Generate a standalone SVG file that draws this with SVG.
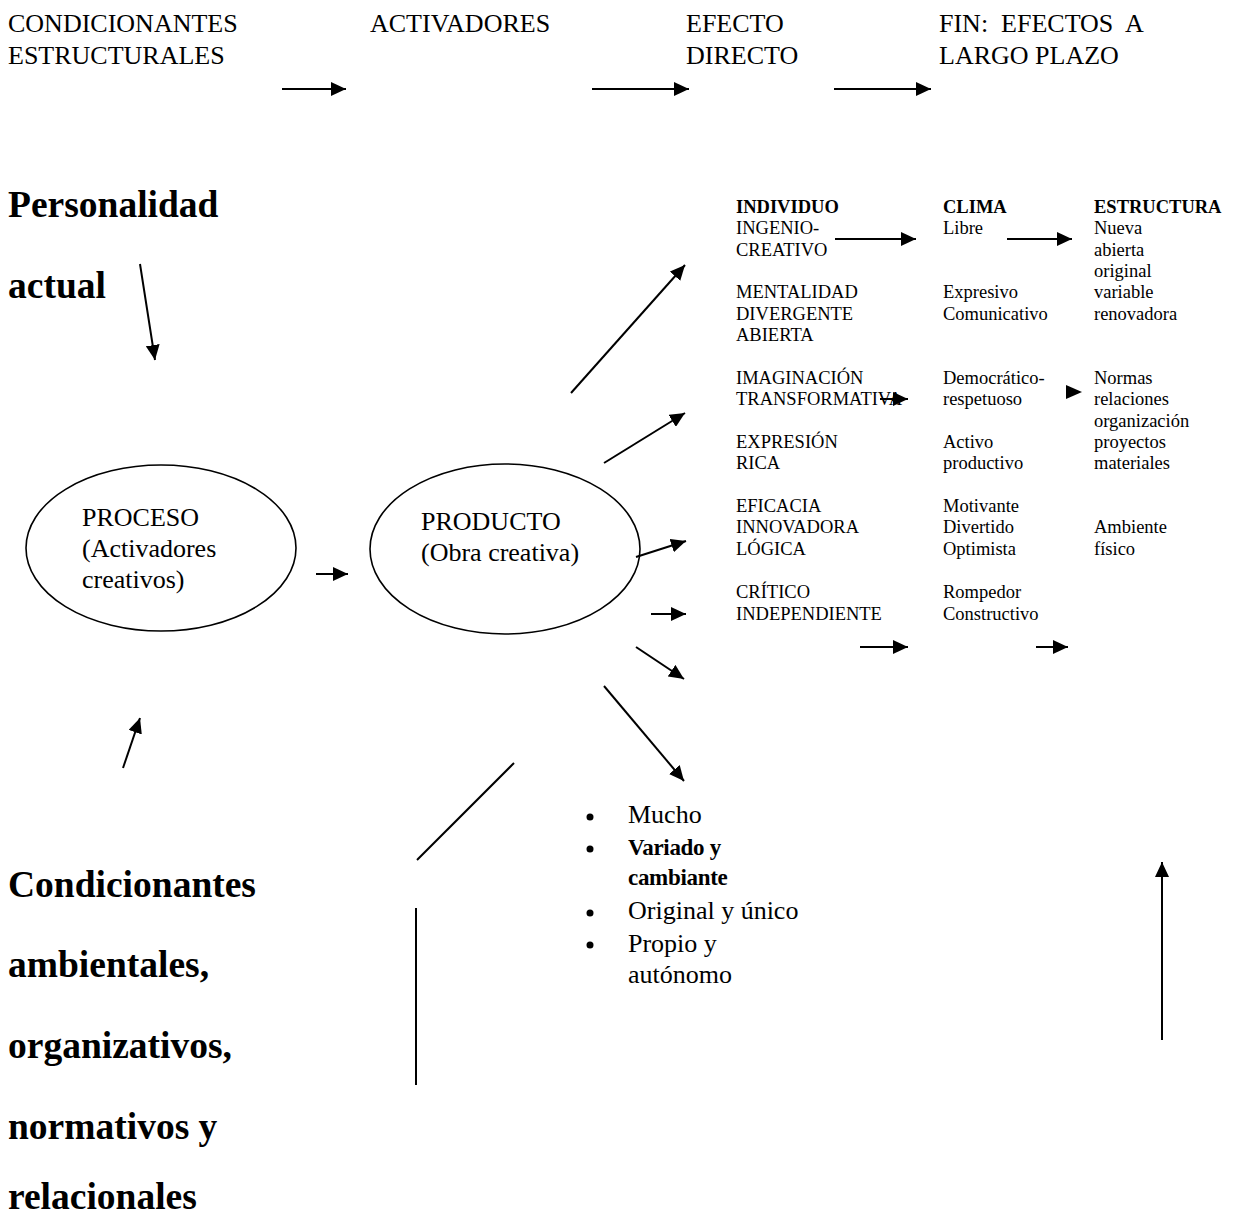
<svg xmlns="http://www.w3.org/2000/svg" width="1236" height="1219" viewBox="0 0 1236 1219">
<defs>
<marker id="ah" markerUnits="userSpaceOnUse" markerWidth="16" markerHeight="14" refX="15" refY="7" orient="auto">
<path d="M0,0 L15,7 L0,14 z" fill="#000"/>
</marker>
<style>
text{font-family:"Liberation Serif","Times New Roman",serif;fill:#000}
.hd{font-size:26px}
.big{font-size:37.5px;font-weight:bold}
.el{font-size:26px}
.tb{font-size:18.5px}
.tbb{font-size:18.5px;font-weight:bold}
.bl{font-size:26px}
.blb{font-size:23px;font-weight:bold;letter-spacing:-0.3px}
.ln{stroke:#000;stroke-width:2;fill:none}
.ar{stroke:#000;stroke-width:2;fill:none;marker-end:url(#ah)}
.ell{stroke:#000;stroke-width:1.6;fill:#fff}
</style>
</defs>
<rect width="1236" height="1219" fill="#fff"/>

<g id="header">
<text class="hd" x="8" y="32">CONDICIONANTES</text>
<text class="hd" x="8" y="64">ESTRUCTURALES</text>
<text class="hd" x="370" y="32">ACTIVADORES</text>
<text class="hd" x="686" y="32">EFECTO</text>
<text class="hd" x="686" y="64">DIRECTO</text>
<text class="hd" x="939" y="32" xml:space="preserve">FIN:  EFECTOS  A</text>
<text class="hd" x="939" y="64">LARGO PLAZO</text>
</g>

<g id="personalidad">
<text class="big" x="8" y="217">Personalidad</text>
<text class="big" x="8" y="298">actual</text>
</g>

<g id="condicionantes">
<text class="big" x="8" y="897">Condicionantes</text>
<text class="big" x="8" y="977">ambientales,</text>
<text class="big" x="8" y="1058">organizativos,</text>
<text class="big" x="8" y="1139">normativos y</text>
<text class="big" x="8" y="1209">relacionales</text>
</g>

<g id="proceso">
<ellipse class="ell" cx="161" cy="548" rx="135" ry="83"/>
<text class="el" x="82" y="526">PROCESO</text>
<text class="el" x="82" y="557">(Activadores</text>
<text class="el" x="82" y="588">creativos)</text>
</g>

<g id="producto">
<ellipse class="ell" cx="505" cy="549" rx="135" ry="85"/>
<text class="el" x="421" y="530">PRODUCTO</text>
<text class="el" x="421" y="561">(Obra creativa)</text>
</g>

<g id="individuo">
<text class="tbb" x="736" y="213">INDIVIDUO</text>
<text class="tb" x="736" y="234">INGENIO-</text>
<text class="tb" x="736" y="256">CREATIVO</text>
<text class="tb" x="736" y="298">MENTALIDAD</text>
<text class="tb" x="736" y="320">DIVERGENTE</text>
<text class="tb" x="736" y="341">ABIERTA</text>
<text class="tb" x="736" y="384">IMAGINACIÓN</text>
<text class="tb" x="736" y="405">TRANSFORMATIVA</text>
<text class="tb" x="736" y="448">EXPRESIÓN</text>
<text class="tb" x="736" y="469">RICA</text>
<text class="tb" x="736" y="512">EFICACIA</text>
<text class="tb" x="736" y="533">INNOVADORA</text>
<text class="tb" x="736" y="555">LÓGICA</text>
<text class="tb" x="736" y="598">CRÍTICO</text>
<text class="tb" x="736" y="620">INDEPENDIENTE</text>
</g>

<g id="clima">
<text class="tbb" x="943" y="213">CLIMA</text>
<text class="tb" x="943" y="234">Libre</text>
<text class="tb" x="943" y="298">Expresivo</text>
<text class="tb" x="943" y="320">Comunicativo</text>
<text class="tb" x="943" y="384">Democrático-</text>
<text class="tb" x="943" y="405">respetuoso</text>
<text class="tb" x="943" y="448">Activo</text>
<text class="tb" x="943" y="469">productivo</text>
<text class="tb" x="943" y="512">Motivante</text>
<text class="tb" x="943" y="533">Divertido</text>
<text class="tb" x="943" y="555">Optimista</text>
<text class="tb" x="943" y="598">Rompedor</text>
<text class="tb" x="943" y="620">Constructivo</text>
</g>

<g id="estructura">
<text class="tbb" x="1094" y="213">ESTRUCTURA</text>
<text class="tb" x="1094" y="234">Nueva</text>
<text class="tb" x="1094" y="256">abierta</text>
<text class="tb" x="1094" y="277">original</text>
<text class="tb" x="1094" y="298">variable</text>
<text class="tb" x="1094" y="320">renovadora</text>
<text class="tb" x="1094" y="384">Normas</text>
<text class="tb" x="1094" y="405">relaciones</text>
<text class="tb" x="1094" y="427">organización</text>
<text class="tb" x="1094" y="448">proyectos</text>
<text class="tb" x="1094" y="469">materiales</text>
<text class="tb" x="1094" y="533">Ambiente</text>
<text class="tb" x="1094" y="555">físico</text>
</g>

<g id="obra-lista">
<circle cx="590" cy="817" r="3.5"/>
<circle cx="590" cy="849" r="3.5"/>
<circle cx="590" cy="913" r="3.5"/>
<circle cx="590" cy="945" r="3.5"/>
<text class="bl" x="628" y="823">Mucho</text>
<text class="blb" x="628" y="855">Variado y</text>
<text class="blb" x="628" y="885">cambiante</text>
<text class="bl" x="628" y="919">Original y único</text>
<text class="bl" x="628" y="952">Propio y</text>
<text class="bl" x="628" y="983">autónomo</text>
</g>

<g id="connectors">
<line class="ar" x1="282" y1="89" x2="346" y2="89"/>
<line class="ar" x1="592" y1="89" x2="689" y2="89"/>
<line class="ar" x1="834" y1="89" x2="931" y2="89"/>
<line class="ar" x1="140" y1="264" x2="155" y2="360"/>
<line class="ar" x1="123" y1="768" x2="140" y2="718"/>
<line class="ar" x1="316" y1="574" x2="348" y2="574"/>
<line class="ar" x1="571" y1="393" x2="685" y2="265"/>
<line class="ar" x1="604" y1="463" x2="685" y2="413"/>
<line class="ar" x1="636" y1="557" x2="686" y2="541"/>
<line class="ar" x1="651" y1="614" x2="686" y2="614"/>
<line class="ar" x1="636" y1="647" x2="684" y2="679"/>
<line class="ar" x1="604" y1="686" x2="684" y2="781"/>
<line class="ln" x1="514" y1="763" x2="417" y2="860"/>
<line class="ln" x1="416" y1="908" x2="416" y2="1085"/>
<line class="ar" x1="835" y1="239" x2="916" y2="239"/>
<line class="ar" x1="1007" y1="239" x2="1072" y2="239"/>
<line class="ar" x1="880" y1="399" x2="908" y2="399"/>
<polygon points="1066,385 1082,392 1066,399" fill="#000"/>
<line class="ar" x1="860" y1="647" x2="908" y2="647"/>
<line class="ar" x1="1036" y1="647" x2="1068" y2="647"/>
<line class="ar" x1="1162" y1="1040" x2="1162" y2="862"/>
</g>
</svg>
